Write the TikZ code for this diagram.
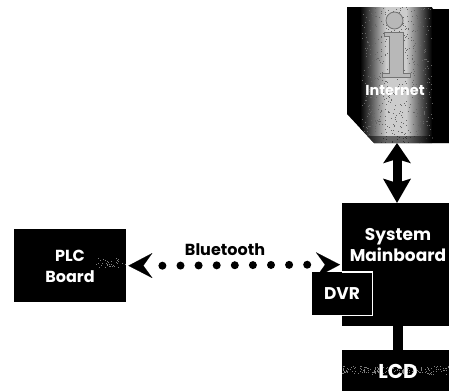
\documentclass[tikz,border=0pt]{standalone}
\usepackage{fontspec}
\setmainfont{Poppins}
\usetikzlibrary{arrows.meta}
\definecolor{grainA}{gray}{0.8}
\tikzset{
  blk/.style={fill=black,draw=none,inner sep=0pt},
  lbl/.style={inner sep=0pt,font=\fontsize{16}{21}\selectfont\bfseries,align=center},
  btips/.style={line width=.1pt,draw=white,{Stealth[length=24pt,width=25pt,inset=9pt,color=black]}-{Stealth[length=24pt,width=25pt,inset=9pt,color=black]}},
  btdots/.style={line width=8pt,line cap=round,dash pattern=on 0pt off 18.1pt},
  iglyph/.style={draw=black!55,line width=.8pt,fill=grainA!90!black}
}
\begin{document}
\begin{tikzpicture}[x=1pt,y=-1pt]
\useasboundingbox (0,0) rectangle (449,391);
% Internet document
\path[fill=black] (347,7) -- (431,7) -- (433,9) -- (449,9) -- (449,143) -- (374,143) -- (347,114) -- cycle;
\begin{scope}
  \clip (347,7) -- (449,7) -- (449,143) -- (374,143) -- (347,114) -- cycle;
  \shade[left color=black,right color=grainA] (360,7) rectangle (386,143);
  \fill[grainA] (385.8,7) rectangle (406.2,143);
  \shade[left color=grainA,right color=black] (406,7) rectangle (432,143);
  \pgfmathsetseed{7}
  \foreach \k in {1,...,550}{
    \pgfmathsetmacro{\gx}{362+70*rnd}
    \pgfmathsetmacro{\gy}{7+136*rnd}
    \fill[black!60] (\gx,\gy) rectangle +(1,1);
  }
  \shade[top color=black,bottom color=black,middle color=black,opacity=.5] (347,136) rectangle (449,143);
\end{scope}
\draw[iglyph] (394.5,20.5) circle (8.5);
\draw[iglyph] (384,32) -- (403,32) -- (403,73) -- (410,73) -- (410,77) -- (382,77) -- (382,73) -- (389,73) -- (389,36) -- (384,36) -- cycle;
\node[lbl,text=white,font=\fontsize{14.4}{16}\selectfont\bfseries] (inettext) at (395,91) {Internet};
\coordinate (inetfoot) at (397,143);
% Boxes
\node[blk,minimum width=112pt,minimum height=73pt,anchor=north west] (plc) at (14,229) {};
\pgfmathsetseed{5}
\foreach \k in {1,...,35}{
  \pgfmathsetmacro{\gx}{96+29*rnd}
  \pgfmathsetmacro{\gy}{258+9*rnd}
  \fill[gray] (\gx,\gy) rectangle +(.8,.8);
}
\node[lbl,text=white] (plctext) at (70,266.5) {PLC\\Board};
\node[blk,minimum width=107pt,minimum height=123pt,anchor=north west] (main) at (342,203) {};
\node[lbl,text=white,font=\fontsize{17}{21}\selectfont\bfseries] (maintext) at (398,245.5) {System\\Mainboard};
\node[blk,minimum width=107pt,minimum height=41pt,anchor=north west] (lcd) at (342,350) {};
\pgfmathsetseed{11}
\foreach \k in {1,...,170}{
  \pgfmathsetmacro{\gx}{342+107*rnd}
  \pgfmathsetmacro{\gy}{366+8*rnd}
  \fill[gray] (\gx,\gy) rectangle +(1,1);
}
\node[lbl,text=white,font=\fontsize{20}{24}\selectfont\bfseries] (lcdtext) at (398,371) {LCD};
% Connectors
\draw[line width=9.5pt] ([xshift=2.5pt]main.south) -- ([xshift=2.5pt]lcd.north);
\draw[line width=9pt,{Stealth[length=20pt,width=27pt,inset=4pt]}-{Stealth[length=24pt,width=27pt,inset=4pt]}] (inetfoot) -- (inetfoot |- main.north);
\coordinate (btl) at (plc.east);
\coordinate (btr) at (main.west);
\draw[btips] ([xshift=2pt]btl) -- ([xshift=-2pt]btr);
\draw[btdots] ([xshift=36pt]btl) -- ([xshift=-33pt]btr);
\node[lbl] (bt) at (225,250) {Bluetooth};
% DVR inset
\node[blk,minimum width=60pt,minimum height=43pt,anchor=north west] (dvr) at (312,272) {};
\draw[white,line width=1.5pt] (dvr.north west -| main.west) -- (dvr.north east) -- (dvr.south east) -- (dvr.south west -| main.west);
\node[lbl,text=white,font=\fontsize{17}{20}\selectfont\bfseries] (dvrtext) at (342,294) {DVR};
\end{tikzpicture}
\end{document}
